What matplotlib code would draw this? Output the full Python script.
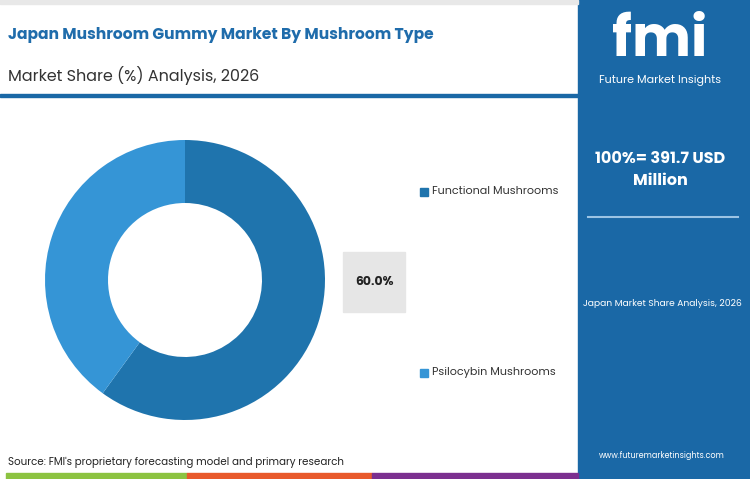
import matplotlib.pyplot as plt
from matplotlib.patches import Rectangle

plt.rcParams['font.family'] = ['Poppins', 'Lato', 'DejaVu Sans']

categories = ['Functional Mushrooms', 'Psilocybin Mushrooms']
shares = [60.0, 40.0]
colors = ['#1f74ad', '#3595d6']
total_label = '100%= 391.7 USD\nMillion'

W, H = 750, 479
fig = plt.figure(figsize=(7.5, 4.79), dpi=100)
bg = fig.add_axes([0, 0, 1, 1])
bg.set_xlim(0, W)
bg.set_ylim(H, 0)
bg.axis('off')

# right panel
bg.add_patch(Rectangle((578, 0), W - 578, H, color='#1a68a6'))
bg.add_patch(Rectangle((0, 94), 578, 3, color='#1a68a6'))
bg.add_patch(Rectangle((0, 0), 578, 4, color='#e8e8e8'))

# bottom colour strip
for x0, x1, c in [(6, 187, '#8cc341'), (187, 372, '#e8592b'), (372, 578, '#7b2f8f')]:
    bg.add_patch(Rectangle((x0, 473), x1 - x0, 6, color=c))

bg.text(8, 35, 'Japan Mushroom Gummy Market By Mushroom Type', fontsize=11.2,
        fontweight='bold', color='#1f6cab', va='center')
bg.text(8, 75, 'Market Share (%) Analysis, 2026', fontsize=11.5, color='#333333', va='center')
bg.text(8, 462, "Source: FMI's proprietary forecasting model and primary research",
        fontsize=7.4, color='#222222', va='center')

# logo
bg.text(660, 42, 'fmi', fontsize=40, fontweight='bold', color='white', ha='center', va='center')
bg.text(660, 80, 'Future Market Insights', fontsize=8, color='white', ha='center', va='center')

bg.text(660, 170, total_label, fontsize=11.5, fontweight='bold', color='white',
        ha='center', va='center', linespacing=1.5)
bg.plot([588, 738], [217, 217], color='#9cc4e4', lw=1.5)
bg.text(662, 303, 'Japan Market Share Analysis, 2026', fontsize=6.6, color='white',
        ha='center', va='center')
bg.text(662, 456, 'www.futuremarketinsights.com', fontsize=5.8, color='white',
        ha='center', va='center')

# donut
ax = fig.add_axes([45 / W, 1 - 420 / H, 280 / W, 280 / H])
ax.pie(shares, colors=colors, startangle=90, counterclock=False,
       wedgeprops=dict(width=0.45, edgecolor='none'))
ax.set_xlim(-1, 1)
ax.set_ylim(-1, 1)
ax.set_aspect('equal')

# value box
bg.add_patch(Rectangle((343, 252), 62, 60, color='#e6e6e6'))
bg.text(374, 282, f'{shares[0]:.1f}%', fontsize=9, fontweight='bold', color='#222222',
        ha='center', va='center')

# legend
for y, name, c in zip([192, 373], categories, colors):
    bg.add_patch(Rectangle((420, y - 4), 8, 8, color=c))
    bg.text(432, y, name, fontsize=8, color='#333333', va='center')

fig.savefig('out.png', dpi=100)
